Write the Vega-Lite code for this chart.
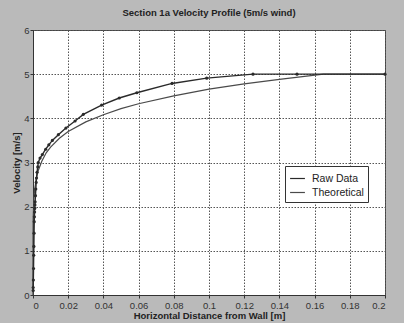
{
  "$schema": "https://vega.github.io/schema/vega-lite/v6.json",
  "autosize": "none",
  "width": 352,
  "height": 265,
  "padding": {"left": 33, "top": 30, "right": 19, "bottom": 28},
  "background": "#bababa",
  "title": {
    "text": "Section 1a Velocity Profile (5m/s wind)",
    "font": "Liberation Sans",
    "fontSize": 9.5,
    "fontWeight": "bold",
    "color": "#222",
    "offset": 8
  },
  "config": {
    "view": {"fill": "white", "stroke": "#444", "strokeWidth": 1},
    "axis": {
      "grid": true,
      "labelFont": "Liberation Sans",
      "labelFontSize": 9.5,
      "labelColor": "#333",
      "titleFont": "Liberation Sans",
      "titleFontSize": 9.5,
      "titleFontWeight": "bold",
      "titleColor": "#222",
      "gridColor": "#555",
      "gridOpacity": 1,
      "gridDash": [1.5, 1.5],
      "gridWidth": 1,
      "domainColor": "#333",
      "tickColor": "#333",
      "tickSize": 3
    }
  },
  "datasets": {
    "raw": [
      {"x": 0.0001, "v": 0.1}, {"x": 0.0001, "v": 0.17}, {"x": 0.0002, "v": 0.34},
      {"x": 0.0003, "v": 0.6}, {"x": 0.0004, "v": 0.9}, {"x": 0.0005, "v": 1.1},
      {"x": 0.0006, "v": 1.4}, {"x": 0.0007, "v": 1.66}, {"x": 0.0008, "v": 1.77},
      {"x": 0.0009, "v": 1.88}, {"x": 0.001, "v": 1.96}, {"x": 0.0011, "v": 2.04},
      {"x": 0.0012, "v": 2.11}, {"x": 0.0014, "v": 2.25}, {"x": 0.0016, "v": 2.4},
      {"x": 0.0018, "v": 2.55}, {"x": 0.002, "v": 2.65}, {"x": 0.0023, "v": 2.78},
      {"x": 0.0027, "v": 2.9}, {"x": 0.003, "v": 3.0}, {"x": 0.004, "v": 3.1},
      {"x": 0.0053, "v": 3.18}, {"x": 0.0072, "v": 3.3}, {"x": 0.009, "v": 3.4},
      {"x": 0.011, "v": 3.5}, {"x": 0.0144, "v": 3.63}, {"x": 0.0187, "v": 3.78},
      {"x": 0.0239, "v": 3.94}, {"x": 0.0286, "v": 4.09}, {"x": 0.039, "v": 4.3},
      {"x": 0.049, "v": 4.46}, {"x": 0.059, "v": 4.58}, {"x": 0.079, "v": 4.79},
      {"x": 0.0987, "v": 4.91}, {"x": 0.125, "v": 5.0}, {"x": 0.15, "v": 5.0},
      {"x": 0.2, "v": 5.0}
    ],
    "theory": [
      {"x": 0, "v": 0}, {"x": 0.00001, "v": 1.25}, {"x": 0.0001, "v": 1.73},
      {"x": 0.0005, "v": 2.18}, {"x": 0.001, "v": 2.41}, {"x": 0.002, "v": 2.66},
      {"x": 0.003, "v": 2.82}, {"x": 0.005, "v": 3.03}, {"x": 0.0075, "v": 3.22},
      {"x": 0.01, "v": 3.35}, {"x": 0.015, "v": 3.55}, {"x": 0.02, "v": 3.7},
      {"x": 0.03, "v": 3.92}, {"x": 0.04, "v": 4.08}, {"x": 0.05, "v": 4.22},
      {"x": 0.06, "v": 4.33}, {"x": 0.08, "v": 4.51}, {"x": 0.1, "v": 4.66},
      {"x": 0.12, "v": 4.78}, {"x": 0.14, "v": 4.88}, {"x": 0.165, "v": 5.0},
      {"x": 0.2, "v": 5.0}
    ]
  },
  "encoding": {
    "x": {
      "field": "x", "type": "quantitative",
      "scale": {"domain": [0, 0.2], "nice": false},
      "axis": {"grid": true, "values": [0, 0.02, 0.04, 0.06, 0.08, 0.1, 0.12, 0.14, 0.16, 0.18, 0.2], "format": "~g", "title": "Horizontal Distance from Wall [m]", "titlePadding": 1, "labelPadding": 2}
    },
    "y": {
      "field": "v", "type": "quantitative",
      "scale": {"domain": [0, 6], "nice": false},
      "axis": {"grid": true, "values": [0, 1, 2, 3, 4, 5, 6], "title": "Velocity [m/s]", "titlePadding": 2, "labelPadding": 1}
    }
  },
  "layer": [
    {
      "data": {"name": "theory"},
      "transform": [{"calculate": "'Theoretical'", "as": "series"}],
      "mark": {"type": "line", "strokeWidth": 1.2},
      "encoding": {
        "color": {
          "field": "series", "type": "nominal",
          "scale": {"domain": ["Raw Data", "Theoretical"], "range": ["#2a2a2a", "#4a4a4a"]},
          "legend": {
            "title": null, "orient": "none", "legendX": 252, "legendY": 136,
            "symbolType": "stroke", "symbolSize": 220, "symbolStrokeWidth": 1.2,
            "labelFont": "Liberation Sans", "labelFontSize": 10.5, "labelColor": "#222",
            "fillColor": "white", "strokeColor": "#333", "padding": 4, "rowPadding": 0, "labelOffset": 6
          }
        }
      }
    },
    {
      "data": {"name": "raw"},
      "transform": [{"calculate": "'Raw Data'", "as": "series"}],
      "mark": {"type": "line", "strokeWidth": 1.4, "point": {"filled": true, "size": 10, "color": "#2a2a2a"}},
      "encoding": {"color": {"field": "series", "type": "nominal"}}
    }
  ]
}
